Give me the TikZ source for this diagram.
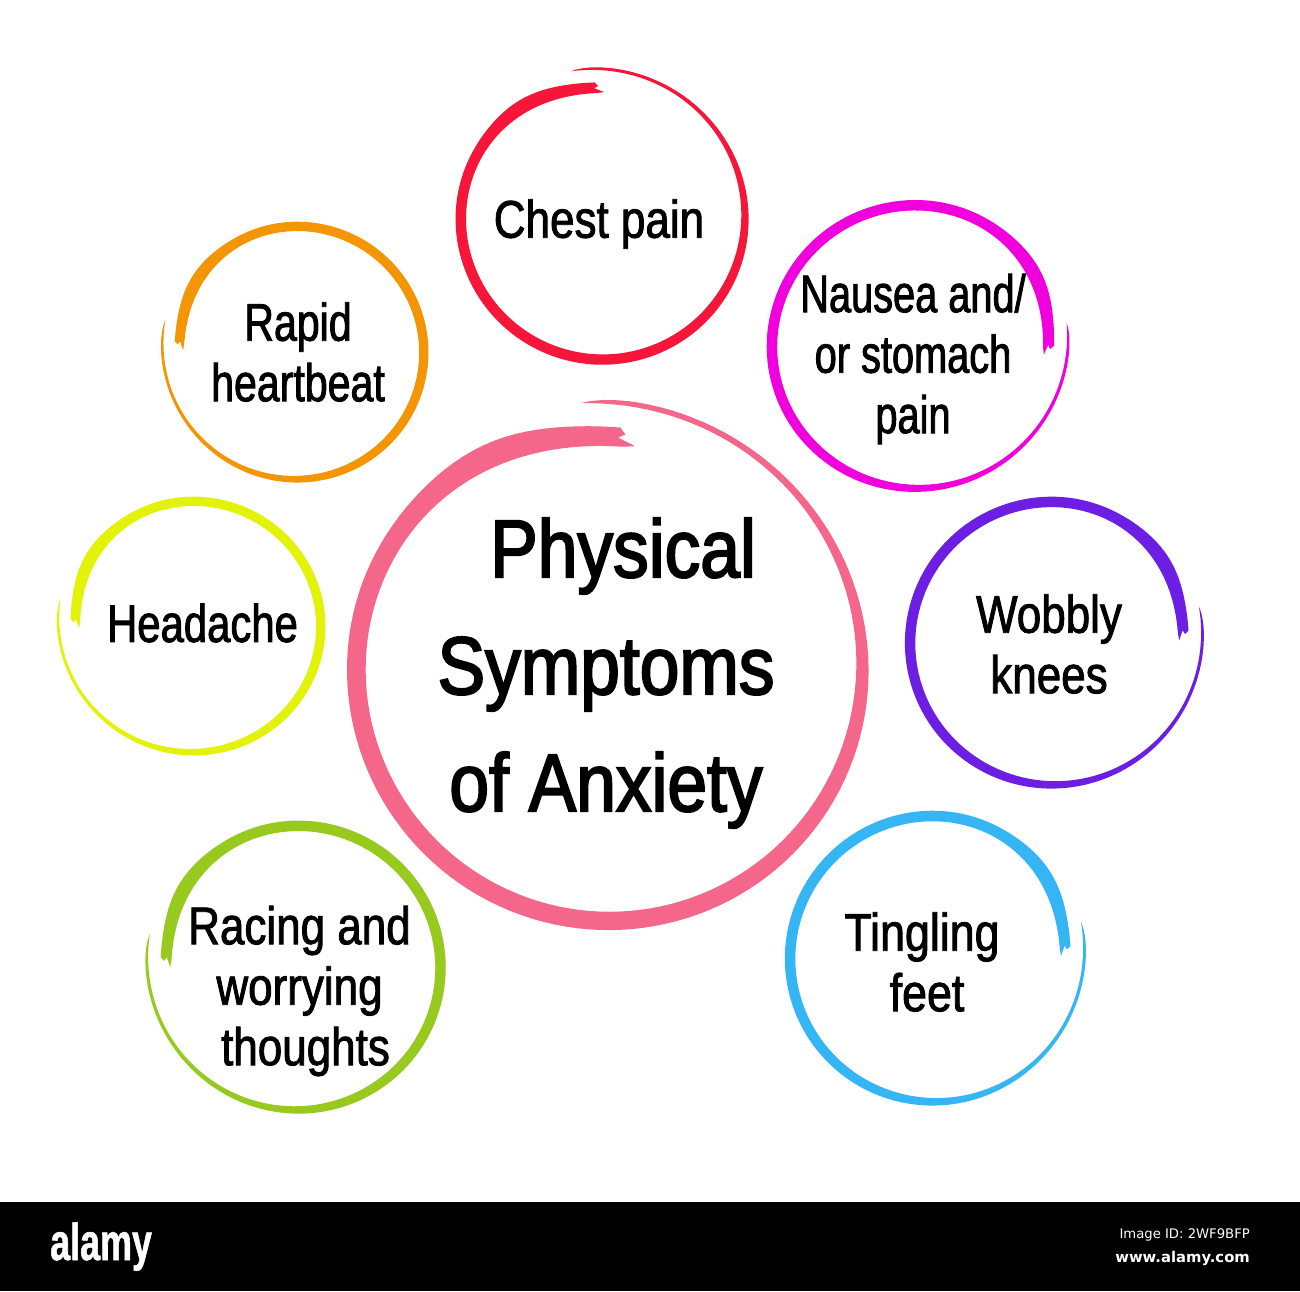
\documentclass[tikz,border=0pt]{standalone}
\usepackage{fontspec}
\setmainfont{Liberation Sans}
\newfontfamily\smallfont[FakeStretch=0.83,FakeBold=1.6]{Liberation Sans}
\newfontfamily\nausfont[FakeStretch=0.75,FakeBold=1.6]{Liberation Sans}
\newfontfamily\rapidfont[FakeStretch=0.775,FakeBold=1.6]{Liberation Sans}
\newfontfamily\headfont[FakeStretch=0.79,FakeBold=1.6]{Liberation Sans}
\newfontfamily\tinglefont[FakeStretch=0.845,FakeBold=1.6]{Liberation Sans}
\newfontfamily\bigfont[FakeStretch=0.87,FakeBold=2.4]{Liberation Sans}
\newfontfamily\logofont[FakeStretch=0.69,FakeBold=1]{Liberation Sans Bold}
\newfontfamily\idfont{DejaVu Sans}
\newfontfamily\wwwfont{DejaVu Sans Bold}
\definecolor{cRed}{HTML}{F5163A}
\definecolor{cPink}{HTML}{F4678B}
\definecolor{cMagenta}{HTML}{F100DE}
\definecolor{cPurple}{HTML}{6C1FE2}
\definecolor{cBlue}{HTML}{36B5F5}
\definecolor{cGreen}{HTML}{97C91F}
\definecolor{cYellow}{HTML}{E2F208}
\definecolor{cOrange}{HTML}{F39505}
\tikzset{
  declare function={
    brusht(\a)=(\a-92)/370;
    brushin(\a)=124+11*(1-exp(-brusht(\a)*brusht(\a)/.0144))+5*brusht(\a)+9*brusht(\a)^8;
    brushw(\a)=(3+7.5*exp(-(brusht(\a)/.78)^8)+3.2*exp(-(brusht(\a)-.085)*(brusht(\a)-.085)/.0025))*(1-exp(-(1-brusht(\a))/.012));
    brushout(\a)=brushin(\a)+brushw(\a);
  },
  symptom/.style={align=center,text=black,font=\smallfont\fontsize{53}{60.5}\selectfont,inner sep=0pt},
  mainlabel/.style={align=center,text=black,font=\bigfont\fontsize{82}{117}\selectfont,inner sep=0pt},
  logo/.style={text=white,inner sep=0pt,anchor=base west}
}
% the brush stroke, in the pixels of the chest-pain circle, polar round its centre
\newcommand{\brushring}[7]{% cx, cy(top-down), size x, size y, rotation, flip, colour
  \begin{scope}[shift={(#1,1291-#2)},xscale=#3,yscale=#4,rotate=#5,xscale=#6]
    \fill[#7] (93:134.5) -- (91.7:131) -- (93.5:129) -- (89:125) -- (92.3:124)
      -- plot[domain=93:462,samples=150,variable=\a] (\a:{brushin(\a)})
      -- plot[domain=462:93,samples=150,variable=\a] (\a:{brushout(\a)}) -- cycle;
  \end{scope}}
\begin{document}
\begin{tikzpicture}[x=1pt,y=1pt]
\useasboundingbox (0,0) rectangle (1300,1291);
\fill[white] (0,0) rectangle (1300,1291);
\fill[black] (0,0) rectangle (1300,89);
\brushring{602}{217}{1}{1}{0}{1}{cRed}
\brushring{608}{667}{1.78}{1.78}{-6}{1}{cPink}
\brushring{295.5}{352}{.90}{.89}{88}{-1}{cOrange}
\brushring{917}{346}{1.017}{.996}{-93}{1}{cMagenta}
\brushring{1053.5}{642.5}{1.006}{.996}{-88}{1}{cPurple}
\brushring{934.5}{958}{1.013}{1.006}{-88}{1}{cBlue}
\brushring{296.5}{967}{1.01}{1}{89}{-1}{cGreen}
\brushring{192}{626}{.903}{.883}{90}{-1}{cYellow}
\node[symptom] (chest) at (599,1291-224) {Chest pain};
\node[symptom,font=\rapidfont\fontsize{53}{60.5}\selectfont] (rapid) at (298,1291-352) {Rapid\\heartbeat};
\node[symptom,font=\nausfont\fontsize{53}{60.5}\selectfont] (nausea) at (913,1291-359) {Nausea and/\\or stomach\\pain};
\node[symptom,font=\headfont\fontsize{53}{60.5}\selectfont] (head) at (202.5,1291-623) {Headache};
\node[symptom] (wobbly) at (1049,1291-644) {Wobbly\\knees};
\node[symptom] (race) at (299.5,1291-991) {Racing and\\worrying\\\hspace*{12pt}thoughts};
\node[symptom,font=\tinglefont\fontsize{53}{60.5}\selectfont] (tingle) at (922,1291-962) {Tingling\\\hspace*{10pt}feet};
\node[mainlabel] (main) at (606,1291-673) {\hspace*{34pt}Physical\\Symptoms\\of Anxiety};
\node[logo] (alamy) at (50,1291-1260) {\logofont\fontsize{52}{52}\selectfont alamy};
\node[logo,anchor=base east] (imgid) at (1250,1291-1238) {\idfont\fontsize{13.2}{13.2}\selectfont Image ID: 2WF9BFP};
\node[logo,anchor=base east] (www) at (1250,1291-1262) {\wwwfont\fontsize{14.8}{14.8}\selectfont www.alamy.com};
\end{tikzpicture}
\end{document}
